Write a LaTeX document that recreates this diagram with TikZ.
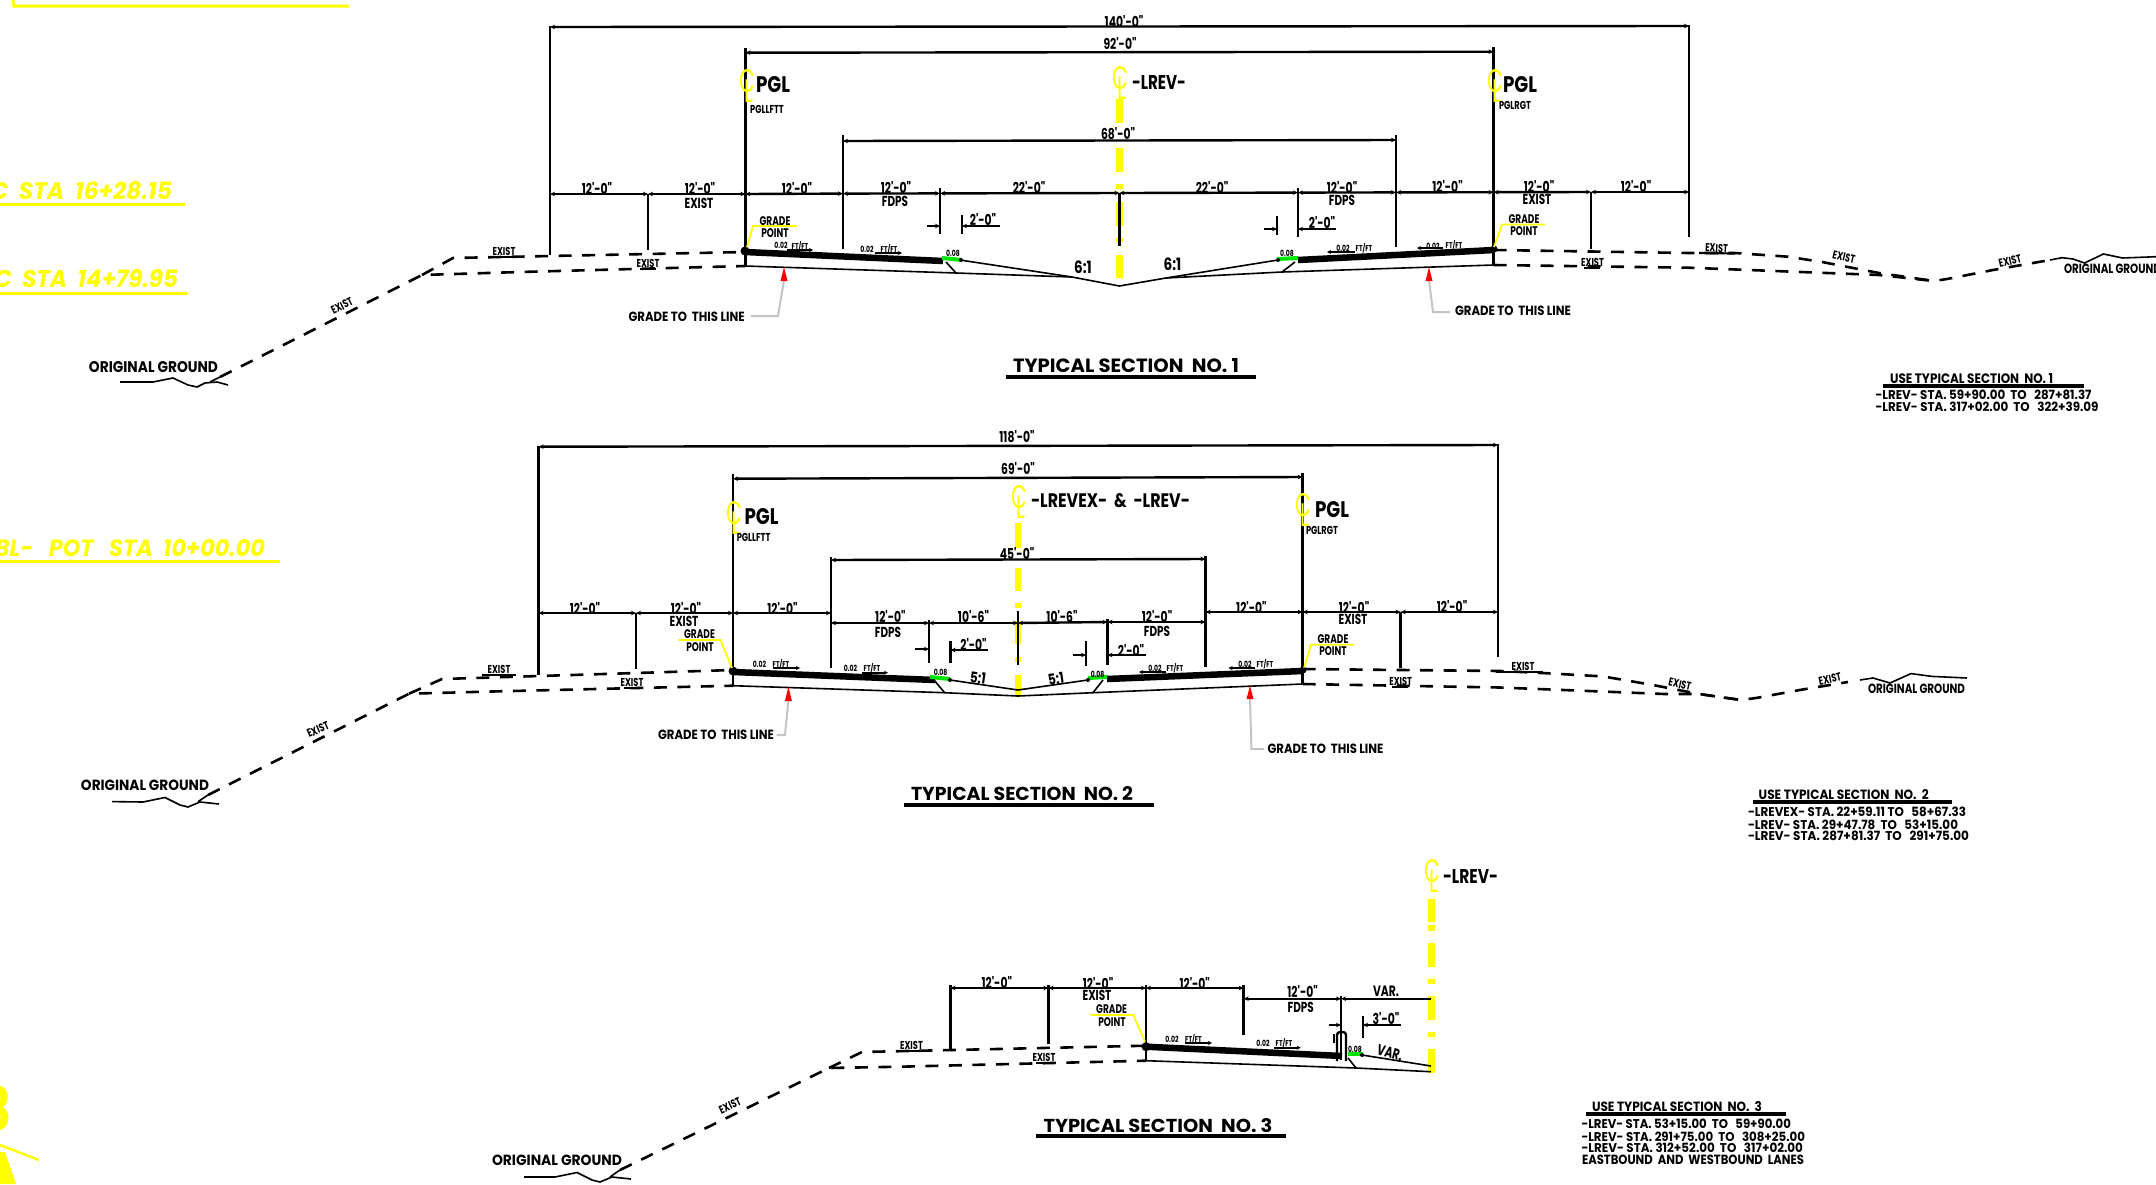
\documentclass[tikz,border=0pt]{standalone}
\usepackage{fontspec}
\usetikzlibrary{arrows.meta}
\newfontfamily\cad[FakeStretch=0.80]{Poppins}
\newfontfamily\cadn[FakeStretch=0.72]{Poppins}
\newcommand\fw[3]{\resizebox{#1pt}{#2pt}{\cad\bfseries #3}}
\newcommand\fy[3]{\resizebox{#1pt}{#2pt}{\cad\itshape\bfseries #3}}
\newcommand\clm{\resizebox{14pt}{23pt}{\cad C\kern-.42em\raisebox{-.32em}{L}}}
\definecolor{cy}{HTML}{FFFF00}
\tikzset{
 every node/.style={inner sep=0pt,outer sep=0pt},
 ext/.style={line width=2.6pt,line cap=butt},
 dimd/.style={line width=2.4pt,{Stealth[length=5pt,width=4.5pt]}-{Stealth[length=5pt,width=4.5pt]}},
 dimr/.style={line width=2.2pt,-{Stealth[length=5pt,width=4.5pt]}},
 gnd/.style={line width=2.6pt,dash pattern=on 13pt off 10.5pt},
 cent/.style={draw=cy,line width=6.5pt},
 ylead/.style={draw=cy,line width=1.8pt},
 grey/.style={draw=black!23,line width=2pt},
 pav/.style={line width=6.5pt},
 thin1/.style={line width=1.6pt},
 green1/.style={draw=green!90!black,line width=4pt},
 ftl/.style={line width=1.8pt,-{Stealth[length=4pt,width=4pt]}},
 dimt/.style={font=\cadn\bfseries\fontsize{15}{15}\selectfont},
 labt/.style={font=\cadn\bfseries\fontsize{14.5}{15}\selectfont},
 gpt/.style={font=\cadn\bfseries\fontsize{12.5}{13}\selectfont},
 smt/.style={font=\cadn\bfseries\fontsize{8.5}{9}\selectfont},
 ext2/.style={font=\cadn\bfseries\fontsize{11.5}{12}\selectfont},
 pgs/.style={font=\cadn\bfseries\fontsize{11.5}{12}\selectfont},
 slope/.style={font=\cad\bfseries\fontsize{17}{18}\selectfont},
 clt/.style={text=cy},
 ytxt/.style={text=cy},
}
\begin{document}
\begin{tikzpicture}[x=1pt,y=-1pt]
\useasboundingbox (0,0) rectangle (2156,1184);
\fill[white] (0,0) rectangle (2156,1184);
\clip (0,0) rectangle (2156,1184);

%% yellow sheet fragments
\draw[ylead,line width=3pt] (13,0) -- (14,6) -- (349,6);
\node[ytxt,anchor=east] (ya) at (172,191) {\fy{196}{18}{PC~~STA~~16+28.15}};
\draw[ylead,line width=3pt] (0,204) -- (185,204);
\node[ytxt,anchor=east] (yb) at (178,279) {\fy{198}{18}{PC~~STA~~14+79.95}};
\draw[ylead,line width=3pt] (0,293) -- (188,293);
\node[ytxt,anchor=east] (yc) at (265,548) {\fy{270}{17}{BL-~~~POT~~~STA~~10+00.00}};
\draw[ylead,line width=3pt] (0,561) -- (280,561);
\node[text=cy,anchor=east,font=\cad\bfseries\fontsize{60}{60}\selectfont] (yd) at (12,1108) {3};
\draw[ylead,line width=2.5pt] (0,1145) -- (39,1160);
\fill[cy] (0,1152) -- (5,1152) -- (16,1184) -- (0,1184) -- cycle;

%% ================= SECTION 1 =================
\foreach \ya/\yb in {99/123,148/172,184/189,202/226,238/242,255/278}
  \draw[cent] (1119.4,\ya) -- (1119.4,\yb);
% extension lines
\draw[ext] (550,26) -- (550,255);
\draw[ext] (1689,25) -- (1689,237);
\draw[ext] (745.4,48) -- (745.4,266);
\draw[ext] (1493.5,47) -- (1493.5,265);
\draw[ext] (843,135) -- (843,249);
\draw[ext] (1396,135) -- (1396,247);
\draw[ext] (648,194) -- (648,250);
\draw[ext] (940,188) -- (940,234);
\draw[ext] (1119.4,193) -- (1119.4,246);
\draw[ext] (1298,188) -- (1298,237);
\draw[ext] (1591,192) -- (1591,249);
% dims
\draw[dimd] (550,27) -- (1689,26);
\draw[dimd] (745.4,52.7) -- (1493.5,51.7);
\draw[dimd] (843,141) -- (1396,140);
\foreach \a/\ya/\b/\yb in {550/194/648/194,648/194/745.4/194,745.4/194/843/193.6,843/193.6/940/193.4,940/193.4/1119.4/193,1119.4/193/1298/192.6,1298/192.6/1396/192.4,1396/192.4/1493.5/192.2,1493.5/192.2/1591/192,1591/192/1689/192}
  \draw[dimd] (\a,\ya) -- (\b,\yb);
\node[dimt] (t1a) at (1124,21) {140'-0"};
\node[dimt] (t1b) at (1120,44) {92'-0"};
\node[dimt] (t1c) at (1118,134) {68'-0"};
\node[dimt] (t1d) at (597,188) {12'-0"};
\node[dimt] (t1e) at (700,188) {12'-0"};
\node[labt] (t1f) at (699,203) {EXIST};
\node[dimt] (t1g) at (797,188) {12'-0"};
\node[dimt] (t1h) at (896,187) {12'-0"};
\node[labt] (t1i) at (895,201) {FDPS};
\node[dimt] (t1j) at (1029,187) {22'-0"};
\node[dimt] (t1k) at (1212,187) {22'-0"};
\node[dimt] (t1l) at (1342,187) {12'-0"};
\node[labt] (t1m) at (1342,200) {FDPS};
\node[dimt] (t1n) at (1447.5,186.6) {12'-0"};
\node[dimt] (t1o) at (1539,186) {12'-0"};
\node[labt] (t1p) at (1537,199) {EXIST};
\node[dimt] (t1q) at (1636,186) {12'-0"};
% 2'-0"
\draw[dimr] (927,226) -- (940,226);
\draw[ext] (962,215) -- (962,234);
\draw[dimr] (1000,226) -- (962,226);
\node[dimt] (t1r) at (983,219) {2'-0"};
\draw[dimr] (1264,229) -- (1277,229);
\draw[ext] (1277,216) -- (1277,235);
\draw[dimr] (1336,229) -- (1298,229);
\node[dimt] (t1s) at (1322,222) {2'-0"};
% PGL
\node[clt] (c1a) at (746,86) {\clm};
\node (p1a) at (773,85) {\fw{34}{16}{PGL}};
\node[pgs] (p1b) at (767,109) {PGLLFTT};
\node[clt] (c1b) at (1119,83) {\clm};
\node (l1) at (1159,82) {\fw{54}{14}{-LREV-}};
\node[clt] (c1c) at (1494,86) {\clm};
\node (p1c) at (1520,85) {\fw{34}{16}{PGL}};
\node[pgs] (p1d) at (1515,105) {PGLRGT};
% pavement
\draw[pav] (745,252) -- (943,261);
\draw[pav] (1298,260) -- (1494,250);
\draw[green1] (942,258) -- (962,260);
\draw[green1] (1277,259) -- (1298,258);
\fill (745,251) circle (4.5);
\fill (1494,249) circle (3.5);
\fill (961,260) circle (2);
\fill (1278,260) circle (2);
\draw[thin1] (960,260) -- (1072,277) -- (1119.4,286) -- (1166,278) -- (1278,260);
\draw[thin1] (745,266) -- (956,273) -- (1072,277);
\draw[thin1] (1493.5,265) -- (1282,272) -- (1166,278);
\draw[thin1] (946,262) -- (956,273);
\draw[thin1] (1295,262) -- (1282,272);
% grade point
\draw[ylead] (747,247) -- (753,226) -- (797,226);
\node[gpt] (g1a) at (775,221) {GRADE};
\node[gpt] (g1b) at (775,233) {POINT};
\draw[ylead] (1494,247) -- (1502,224.5) -- (1545,224.5);
\node[gpt] (g1c) at (1524,219) {GRADE};
\node[gpt] (g1d) at (1524,231) {POINT};
% slopes
\node[smt] at (781,245) {0.02};
\node[smt] (s1a) at (800,246) {FT/FT};
\draw[ftl] (787,250) -- (813,250);
\node[smt] at (867,249) {0.02};
\node[smt] (s1b) at (889,249) {FT/FT};
\draw[ftl] (875,253) -- (902,253);
\node[smt] (s1c) at (953,253) {0.08};
\node[smt] (s1d) at (1287,253) {0.08};
\node[smt] at (1343,248) {0.02};
\node[smt] (s1e) at (1364,248) {FT/FT};
\draw[ftl] (1355,252) -- (1327,252);
\node[smt] at (1433,246) {0.02};
\node[smt] (s1f) at (1454,245) {FT/FT};
\draw[ftl] (1443,248) -- (1417,248);
\node[slope] (r1a) at (1083,267) {6:1};
\node[slope] (r1b) at (1172.5,264) {6:1};
% grade to
\draw[grey] (784,280) -- (778,316) -- (751,316);
\fill[red] (784,267) -- (787.5,281) -- (780.5,281) -- cycle;
\node (gt1a) at (686.6,317) {\fw{116}{9.5}{GRADE TO~~THIS LINE}};
\draw[grey] (1429,280) -- (1433,312) -- (1450,312);
\fill[red] (1429,267) -- (1432.5,281) -- (1425.5,281) -- cycle;
\node (gt1b) at (1513,311) {\fw{116}{9.5}{GRADE TO~~THIS LINE}};
% title
\node[anchor=west] (ti1) at (1013,366) {\fw{226}{14}{TYPICAL SECTION~~NO. 1}};
\draw[line width=4pt] (1006,377) -- (1255.5,377);
% ground left
\draw[gnd] (220,377) -- (422,275) -- (520,272) -- (745.4,266);
\draw[gnd] (422,275) -- (453,258) -- (745.4,252);
\draw[thin1] (120,382) -- (153,382) -- (173,378) -- (188,385) -- (197,387) -- (205,383) -- (217,382) -- (228,385);
\draw[thin1] (210,382) -- (220,377);
\node[anchor=center] (og1a) at (153.5,367) {\fw{129}{11}{ORIGINAL GROUND}};
\node[ext2,rotate=27] (e1a) at (342,306) {EXIST};
\node[ext2] (e1b) at (504,251) {EXIST};
\draw[line width=2.2pt] (488,257) -- (520,257);
\node[ext2] (e1c) at (648,263) {EXIST};
\draw[line width=2.6pt] (640,269) -- (656,269);
% ground right
\draw[gnd] (1493.5,250) -- (1689,253) -- (1735,253) -- (1788,256.7) -- (1822,262) -- (1879,273) -- (1934,281);
\draw[gnd] (1493.5,265) -- (1689,267.7) -- (1879,275) -- (1934,281) -- (1947,279) -- (1993,270) -- (2050,260);
\draw[thin1] (2050,260) -- (2062,257.7) -- (2073,259) -- (2084.5,263) -- (2103.5,254) -- (2122.5,258) -- (2156,256.7);
\node[ext2] (e1d) at (1592.5,262) {EXIST};
\draw[line width=2.6pt] (1584,268) -- (1600,268);
\node[ext2,rotate=-3] (e1e) at (1716.6,248) {EXIST};
\draw[line width=2.2pt] (1699,253) -- (1735,253.5);
\node[ext2,rotate=-13] (e1f) at (1844,257) {EXIST};
\node[ext2,rotate=14] (e1g) at (2010,261) {EXIST};
\node[anchor=west] (og1b) at (2064,269) {\fw{97}{9.5}{ORIGINAL GROUND}};
% table 1
\node (tb1t) at (1971.6,379) {\fw{163}{10}{USE TYPICAL SECTION~~NO. 1}};
\draw[line width=4pt] (1883,386) -- (2084,386);
\node[anchor=west] (tb1a) at (1875.5,394.7) {\fw{216}{9.5}{-LREV- STA. 59+90.00~~TO~~~287+81.37}};
\node[anchor=west] (tb1b) at (1875.5,406.7) {\fw{223}{9.5}{-LREV- STA. 317+02.00~~TO~~~322+39.09}};

%% ================= SECTION 2 =================
\foreach \ya/\yb in {523/548,568/591,603/608,621/644,657/662,675/697}
  \draw[cent] (1018,\ya) -- (1018,\yb);
\draw[ext] (538.5,446) -- (538.5,675);
\draw[ext] (1498,444) -- (1498,657);
\draw[ext] (733,474) -- (733,685.7);
\draw[ext] (1302.7,473) -- (1302.7,684);
\draw[ext] (831,557) -- (831,668);
\draw[ext] (1205.5,556) -- (1205.5,667);
\draw[ext] (636,613) -- (636,669);
\draw[ext] (1400.7,612) -- (1400.7,668);
\draw[ext] (929,620) -- (929,663);
\draw[ext] (1107.5,619) -- (1107.5,665);
\draw[ext] (1018,611) -- (1018,665);
\draw[dimd] (538.5,446.7) -- (1498,445);
\draw[dimd] (733,478.7) -- (1302.7,477);
\draw[dimd] (831,560) -- (1205.5,559);
\foreach \a/\ya/\b/\yb in {538.5/613/636/613,636/613/733/613,733/613/831/613,1205.5/612/1302.7/612,1302.7/612/1400.7/612,1400.7/612/1498/612,831/623/929/623,929/623/1018/623,1018/623/1107.5/622,1107.5/622/1205.5/622}
  \draw[dimd] (\a,\ya) -- (\b,\yb);
\node[dimt] (t2a) at (1017,437) {118'-0"};
\node[dimt] (t2b) at (1018,469) {69'-0"};
\node[dimt] (t2c) at (1017,553) {45'-0"};
\node[dimt] (t2d) at (585,608) {12'-0"};
\node[dimt] (t2e) at (686,608) {12'-0"};
\node[labt] (t2f) at (684,621) {EXIST};
\node[dimt] (t2g) at (782.5,608) {12'-0"};
\node[dimt] (t2h) at (890.4,616) {12'-0"};
\node[labt] (t2i) at (888,632) {FDPS};
\node[dimt] (t2j) at (973.5,617) {10'-6"};
\node[dimt] (t2k) at (1062,617) {10'-6"};
\node[dimt] (t2l) at (1157,616) {12'-0"};
\node[labt] (t2m) at (1157,631) {FDPS};
\node[dimt] (t2n) at (1251.4,607) {12'-0"};
\node[dimt] (t2o) at (1354,607) {12'-0"};
\node[labt] (t2p) at (1353,619) {EXIST};
\node[dimt] (t2q) at (1452,606) {12'-0"};
\draw[dimr] (915,649) -- (929,649);
\draw[ext] (950.5,641) -- (950.5,663);
\draw[dimr] (988,650) -- (950.5,650);
\node[dimt] (t2r) at (973.5,644) {2'-0"};
\draw[dimr] (1072.7,655) -- (1086,655);
\draw[ext] (1086,640.7) -- (1086,665.7);
\draw[dimr] (1146,655) -- (1107.5,655);
\node[dimt] (t2s) at (1131,650) {2'-0"};
\node[clt] (c2a) at (733,518) {\clm};
\node (p2a) at (761.5,517) {\fw{34}{16}{PGL}};
\node[pgs] (p2b) at (753.6,537) {PGLLFTT};
\node[clt] (c2b) at (1018,502) {\clm};
\node[anchor=west] (l2) at (1031,500.7) {\fw{159}{14}{-LREVEX-~~\&~~-LREV-}};
\node[clt] (c2c) at (1302,510) {\clm};
\node (p2c) at (1332,510) {\fw{34}{16}{PGL}};
\node[pgs] (p2d) at (1322,530) {PGLRGT};
\draw[pav] (733,672) -- (935,680);
\draw[pav] (1107,679) -- (1302.7,671);
\draw[green1] (930,677) -- (950,679);
\draw[green1] (1088,678) -- (1107,677);
\fill (733,671) circle (4.5);
\fill (1303,670) circle (3.5);
\fill (950,680) circle (2);
\fill (1088,680) circle (2);
\draw[thin1] (950,680) -- (1018,690) -- (1088,680);
\draw[thin1] (733,685.7) -- (944.6,692.7) -- (1018,696) -- (1093,692.7) -- (1302.7,684);
\draw[thin1] (934,680) -- (944.6,692.7);
\draw[thin1] (1103,680) -- (1093,692.7);
\draw[ylead] (678.5,640) -- (720.4,640) -- (732,668);
\node[gpt] (g2a) at (699.5,634) {GRADE};
\node[gpt] (g2b) at (700,646.7) {POINT};
\draw[ylead] (1304,668) -- (1311,644.7) -- (1354,644.7);
\node[gpt] (g2c) at (1333,639) {GRADE};
\node[gpt] (g2d) at (1333,651) {POINT};
\node[smt] at (759.5,664) {0.02};
\node[smt] (s2a) at (781,664) {FT/FT};
\draw[ftl] (772.6,668) -- (800,668);
\node[smt] at (850.5,668) {0.02};
\node[smt] (s2b) at (872,668) {FT/FT};
\draw[ftl] (861.6,672.7) -- (888,672.7);
\node[smt] (s2c) at (940.6,672.7) {0.08};
\node[smt] (s2d) at (1097.6,674) {0.08};
\node[smt] at (1155,668) {0.02};
\node[smt] (s2e) at (1175,668) {FT/FT};
\draw[ftl] (1166,672) -- (1139,672);
\node[smt] at (1245,664) {0.02};
\node[smt] (s2f) at (1265,664) {FT/FT};
\draw[ftl] (1254.5,668) -- (1228.5,668);
\node[slope,font=\cad\bfseries\fontsize{15}{16}\selectfont,rotate=-8] (r2a) at (978,678) {5:1};
\node[slope,font=\cad\bfseries\fontsize{15}{16}\selectfont,rotate=8] (r2b) at (1056,679) {5:1};
\draw[grey] (788.4,700) -- (785,735) -- (776.6,735);
\fill[red] (788.4,686.7) -- (791.9,701) -- (784.9,701) -- cycle;
\node (gt2a) at (716,735) {\fw{116}{9.5}{GRADE TO~~THIS LINE}};
\draw[grey] (1250,698) -- (1251.4,749) -- (1264,749);
\fill[red] (1250,685.7) -- (1253.5,699) -- (1246.5,699) -- cycle;
\node (gt2b) at (1325.5,749) {\fw{116}{9.5}{GRADE TO~~THIS LINE}};
\node[anchor=west] (ti2) at (911,794) {\fw{222}{14}{TYPICAL SECTION~~NO. 2}};
\draw[line width=4pt] (904,805) -- (1154,805);
% ground left
\draw[gnd] (208,795) -- (409,693.7) -- (492,691.5) -- (733,685.7);
\draw[gnd] (409,693.7) -- (442,679) -- (733,670);
\draw[thin1] (112,801.6) -- (143,802) -- (165,797.5) -- (180,805) -- (188,807) -- (200,802) -- (219,804);
\draw[thin1] (198,801.7) -- (208,795);
\node (og2a) at (145,785.6) {\fw{128}{10.5}{ORIGINAL GROUND}};
\node[ext2,rotate=23] (e2a) at (318,729.7) {EXIST};
\node[ext2] (e2b) at (499,669) {EXIST};
\draw[line width=2.2pt] (482,675) -- (516,675);
\node[ext2] (e2c) at (632,682) {EXIST};
\draw[line width=2.6pt] (624,688) -- (640,688);
% ground right
\draw[gnd] (1302.7,669) -- (1500,671) -- (1542,673) -- (1603,676.4) -- (1653,685) -- (1699,694) -- (1741,700);
\draw[gnd] (1302.7,684) -- (1500,687.5) -- (1664.6,694) -- (1699,694) -- (1741,700) -- (1756,698) -- (1802,689.6) -- (1848,682);
\draw[thin1] (1860,680) -- (1873,678) -- (1890,683) -- (1911,673.6) -- (1932,676.4) -- (1967,678);
\node[ext2] (e2d) at (1400.7,681) {EXIST};
\draw[line width=2.6pt] (1392,687) -- (1408,687);
\node[ext2] (e2e) at (1523,666) {EXIST};
\draw[line width=2.2pt] (1496,672) -- (1543,672);
\node[ext2,rotate=-13] (e2f) at (1680,684.4) {EXIST};
\node[ext2,rotate=12] (e2g) at (1830,679) {EXIST};
\node (og2b) at (1916.5,688.6) {\fw{97}{9.5}{ORIGINAL GROUND}};
% table 2
\node[anchor=west] (tb2t) at (1758.7,794.4) {\fw{170}{10}{USE TYPICAL SECTION~~NO.~~2}};
\draw[line width=4pt] (1752.6,802) -- (1952,802);
\node[anchor=west] (tb2a) at (1748,811.8) {\fw{218}{9.5}{-LREVEX- STA. 22+59.11 TO~~~58+67.33}};
\node[anchor=west] (tb2b) at (1748,824.6) {\fw{210}{9.5}{-LREV- STA. 29+47.78~~TO~~~53+15.00}};
\node[anchor=west] (tb2c) at (1748,836) {\fw{221}{9.5}{-LREV- STA. 287+81.37~~TO~~~291+75.00}};

%% ================= SECTION 3 =================
\foreach \ya/\yb in {899/922,925/930.7,942.7/966.7,978.7/984,996/1020,1032/1037,1049/1072.7}
  \draw[cent,line width=7pt] (1431,\ya) -- (1431,\yb);
\draw[ext] (950.5,985) -- (950.5,1050);
\draw[ext] (1048.5,985) -- (1048.5,1044);
\draw[ext] (1146,985) -- (1146,1060.7);
\draw[ext] (1243.7,985) -- (1243.7,1035);
\draw[ext] (1341,996) -- (1341,1060);
\foreach \a/\ya/\b/\yb in {950.5/988/1048.5/988,1048.5/988/1146/988,1146/988/1243.7/988,1243.7/998.7/1341/998.7}
  \draw[dimd] (\a,\ya) -- (\b,\yb);
\draw[line width=2.4pt,{Stealth[length=5pt,width=4.5pt]}-] (1341,998.7) -- (1431,998.7);
\node[dimt] (t3a) at (996.8,982.7) {12'-0"};
\node[dimt] (t3b) at (1098,983) {12'-0"};
\node[labt] (t3c) at (1097,995.7) {EXIST};
\node[dimt] (t3d) at (1194.7,983) {12'-0"};
\node[dimt] (t3e) at (1302.6,991) {12'-0"};
\node[labt] (t3f) at (1300.7,1007) {FDPS};
\node[dimt] (t3g) at (1386,991.7) {VAR.};
\draw[dimr] (1328.6,1025) -- (1341,1025);
\draw[ext] (1363,1016) -- (1363,1038);
\draw[dimr] (1400.6,1025) -- (1363,1025);
\node[dimt] (t3h) at (1386,1019) {3'-0"};
\draw[line width=2.4pt,rounded corners=3pt] (1337,1061) -- (1337,1032) -- (1346,1032) -- (1346,1061);
\draw[line width=2.4pt] (1334,1034) -- (1334,1043);
\draw[pav] (1146,1046.7) -- (1342,1056);
\draw[green1] (1348,1054) -- (1363,1054);
\fill (1146,1046.7) circle (4.5);
\fill (1362,1055) circle (2);
\draw[thin1] (1362,1055) -- (1431,1066);
\draw[thin1] (1146,1060.7) -- (1356,1068) -- (1431,1071.7);
\draw[thin1] (1348,1058) -- (1356,1068);
\node[dimt,rotate=-15] (t3i) at (1390,1053) {VAR.};
\node[smt] (s3c) at (1355,1049) {0.08};
\node[smt] at (1172,1039) {0.02};
\node[smt] (s3a) at (1193.5,1039.7) {FT/FT};
\draw[ftl] (1185,1043) -- (1212,1043);
\node[smt] at (1263,1043) {0.02};
\node[smt] (s3b) at (1284,1043) {FT/FT};
\draw[ftl] (1274,1047.7) -- (1300.7,1047.7);
\draw[ylead] (1090.6,1015) -- (1133.4,1015) -- (1145,1041.7);
\node[gpt] (g3a) at (1111.6,1009) {GRADE};
\node[gpt] (g3b) at (1112,1021.7) {POINT};
\node[clt] (c3) at (1431,876) {\clm};
\node (l3) at (1470.5,876) {\fw{55}{14}{-LREV-}};
\node[anchor=west] (ti3) at (1043.5,1126) {\fw{229}{14}{TYPICAL SECTION~~NO. 3}};
\draw[line width=4pt] (1036,1136) -- (1285.8,1136);
% ground
\draw[gnd] (620,1170) -- (829,1068) -- (900,1066.7) -- (1146,1060.7);
\draw[gnd] (829,1068) -- (862,1052) -- (1146,1045.7);
\draw[thin1] (524,1177) -- (555,1177) -- (577,1172.5) -- (592,1180) -- (600,1182) -- (612,1177) -- (631,1179);
\draw[thin1] (610,1177) -- (620,1170);
\node (og3) at (557,1160.5) {\fw{130}{10.5}{ORIGINAL GROUND}};
\node[ext2,rotate=25] (e3a) at (730,1105.5) {EXIST};
\node[ext2] (e3b) at (911.5,1045) {EXIST};
\draw[line width=2.2pt] (896,1051) -- (928,1051);
\node[ext2] (e3c) at (1044,1057) {EXIST};
\draw[line width=2.6pt] (1036,1063) -- (1052,1063);
% table 3
\node[anchor=west] (tb3t) at (1592,1106.7) {\fw{170}{10}{USE TYPICAL SECTION~~NO.~~3}};
\draw[line width=4pt] (1586,1114) -- (1786,1114);
\node[anchor=west] (tb3a) at (1581.5,1124) {\fw{209.5}{9.5}{-LREV- STA. 53+15.00~~TO~~~59+90.00}};
\node[anchor=west] (tb3b) at (1581.5,1137) {\fw{223.5}{9.5}{-LREV- STA. 291+75.00~~TO~~~308+25.00}};
\node[anchor=west] (tb3c) at (1581.5,1148) {\fw{221.5}{9.5}{-LREV- STA. 312+52.00~~TO~~~317+02.00}};
\node[anchor=west] (tb3d) at (1582,1160) {\fw{222}{9.5}{EASTBOUND~~AND~~WESTBOUND~~LANES}};
\end{tikzpicture}
\end{document}
